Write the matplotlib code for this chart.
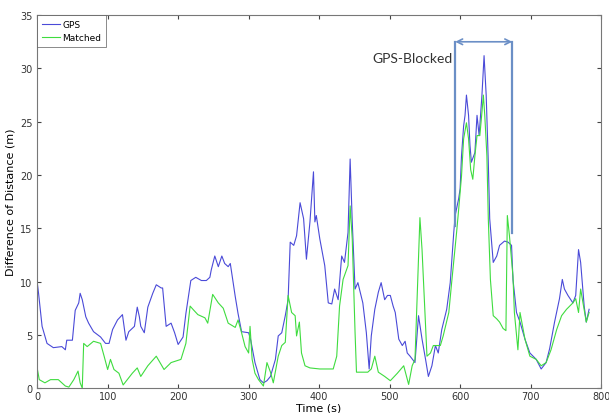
import matplotlib
matplotlib.use("Agg")
import matplotlib.pyplot as plt

# GPS error curve (time s, difference m)
gps_t = [0, 2, 7, 14, 23, 35, 40, 42, 50, 54, 59, 61, 64, 69, 73, 80, 90, 97, 102,
         107, 114, 121, 126, 130, 138, 142, 145, 147, 152, 157, 164, 169, 176, 178,
         183, 190, 195, 200, 207, 211, 218, 225, 233, 240, 245, 247, 252, 257, 262,
         266, 271, 274, 281, 285, 290, 300, 303, 309, 316, 321, 326, 331, 338, 342,
         347, 352, 356, 359, 364, 368, 373, 378, 382, 387, 392, 394, 396, 401, 408,
         413, 418, 422, 427, 432, 436, 441, 444, 447, 451, 455, 462, 467, 471, 474,
         479, 484, 488, 493, 497, 501, 505, 508, 513, 518, 522, 525, 529, 536, 541,
         546, 551, 555, 560, 565, 569, 574, 581, 586, 591, 593, 598, 600, 602, 605,
         607, 609, 612, 614, 616, 621, 624, 627, 631, 634, 637, 640, 642, 647, 652,
         656, 663, 668, 673, 675, 680, 685, 692, 699, 708, 715, 722, 727, 734, 741,
         745, 748, 753, 760, 764, 768, 771, 776, 779, 783]
gps_d = [10.0, 8.9, 5.8, 4.2, 3.8, 3.9, 3.6, 4.5, 4.5, 7.3, 8.0, 8.9, 8.3, 6.7, 6.1,
         5.3, 4.8, 4.2, 4.2, 5.5, 6.4, 6.9, 4.5, 5.3, 5.8, 7.6, 6.7, 5.8, 5.2, 7.6,
         8.9, 9.7, 9.4, 9.4, 5.8, 6.1, 5.2, 4.1, 4.8, 7.0, 10.1, 10.4, 10.1, 10.1,
         10.4, 11.1, 12.4, 11.4, 12.4, 11.7, 11.4, 11.7, 8.6, 7.0, 5.3, 5.2, 4.5,
         2.4, 0.8, 0.5, 0.7, 1.1, 2.7, 4.9, 5.2, 6.8, 8.3, 13.7, 13.4, 14.3, 17.4,
         15.9, 12.1, 15.6, 20.3, 15.6, 16.2, 14.0, 11.5, 8.0, 7.9, 9.3, 8.3, 12.4,
         11.8, 14.6, 21.5, 15.6, 9.3, 9.9, 8.0, 5.2, 1.8, 4.9, 7.4, 9.0, 9.9, 8.3,
         8.7, 8.7, 7.7, 7.1, 4.6, 4.0, 4.4, 3.3, 3.0, 2.4, 6.8, 4.6, 2.7, 1.1, 2.1,
         4.0, 3.3, 5.5, 7.4, 9.9, 14.6, 16.2, 17.8, 18.7, 21.8, 24.6, 25.6, 27.5,
         25.6, 22.8, 21.2, 22.1, 25.6, 23.7, 27.5, 31.2, 27.5, 21.2, 15.9, 11.8,
         12.4, 13.4, 13.8, 13.7, 13.4, 10.2, 7.1, 6.2, 4.6, 3.3, 2.7, 1.8, 2.4, 3.7,
         6.2, 8.4, 10.2, 9.3, 8.7, 8.0, 8.7, 13.0, 11.8, 7.7, 6.2, 7.4]

# map-matched error curve
match_t = [0, 3, 11, 19, 30, 40, 45, 52, 58, 61, 64, 66, 71, 80, 90, 95, 100, 104,
           109, 116, 122, 128, 135, 142, 147, 157, 169, 180, 190, 204, 211, 217,
           221, 228, 238, 242, 249, 257, 264, 271, 281, 285, 290, 295, 300, 302,
           305, 309, 314, 321, 326, 331, 335, 342, 347, 352, 356, 361, 366, 368,
           372, 375, 380, 387, 401, 420, 425, 429, 434, 441, 444, 447, 451, 453,
           462, 469, 474, 479, 484, 493, 501, 511, 520, 527, 532, 536, 543, 546,
           551, 553, 558, 562, 572, 576, 584, 588, 595, 598, 602, 605, 609, 612,
           615, 618, 621, 624, 628, 631, 633, 635, 638, 640, 643, 647, 652, 656,
           661, 665, 667, 670, 675, 677, 682, 685, 692, 699, 708, 715, 722, 729,
           737, 744, 751, 760, 764, 768, 771, 776, 779, 783]
match_d = [1.9, 0.8, 0.5, 0.8, 0.8, 0.2, 0.1, 0.8, 1.6, 0.5, 0.0, 4.2, 3.9, 4.4,
           4.2, 3.0, 1.75, 2.7, 1.75, 1.4, 0.3, 0.8, 1.4, 1.9, 1.1, 2.1, 3.0, 1.75,
           2.4, 2.7, 4.2, 7.7, 7.4, 6.9, 6.6, 6.1, 8.8, 8.0, 7.5, 6.1, 5.7, 6.4,
           5.2, 3.9, 3.3, 5.8, 2.7, 1.4, 0.8, 0.2, 2.4, 1.5, 0.5, 3.0, 4.0, 4.3,
           8.7, 7.1, 6.8, 4.9, 6.2, 3.3, 2.1, 1.9, 1.8, 1.8, 3.0, 7.7, 10.2, 11.5,
           17.1, 14.0, 5.2, 1.5, 1.5, 1.5, 1.8, 3.0, 1.5, 1.1, 0.7, 1.4, 2.1, 0.35,
           2.1, 2.7, 16.0, 13.0, 5.8, 3.0, 3.3, 4.0, 4.0, 4.9, 7.1, 9.9, 14.6, 16.8,
           19.9, 23.4, 24.9, 23.4, 20.5, 19.6, 21.8, 23.7, 23.7, 25.9, 27.5, 25.6,
           21.8, 15.9, 10.2, 6.8, 6.5, 6.2, 5.6, 5.4, 16.2, 14.3, 10.5, 7.1, 3.6,
           7.1, 4.6, 3.0, 2.7, 2.1, 2.4, 3.6, 5.5, 6.8, 7.4, 8.0, 8.4, 7.1, 9.3,
           7.4, 6.2, 7.1]

blocked_start, blocked_end = 593, 674
blocked_top = 32.5
blocked_left_bottom, blocked_right_bottom = 15.2, 14.6

fig = plt.figure(figsize=(6.09, 4.14), dpi=100)
ax = fig.add_axes([0.061, 0.06, 0.926, 0.901])

ax.plot(gps_t, gps_d, color="#4a4ad8", lw=0.8, label="GPS")
ax.plot(match_t, match_d, color="#3fdc3f", lw=0.8, label="Matched")

# GPS-blocked marker
box_col = "#6b8fc6"
ax.plot([blocked_start, blocked_start], [blocked_left_bottom, blocked_top], color=box_col, lw=1.6)
ax.plot([blocked_end, blocked_end], [blocked_right_bottom, blocked_top], color=box_col, lw=1.6)
ax.annotate("", xy=(blocked_start, blocked_top), xytext=(blocked_end, blocked_top),
            arrowprops=dict(arrowstyle="<->", color=box_col, lw=1.2, shrinkA=0, shrinkB=0))
ax.text(blocked_start - 3, 31.0, "GPS-Blocked", ha="right", va="center",
        fontsize=10, family="Lato", color="#333333")

ax.set_xlim(0, 800)
ax.set_ylim(0, 35)
ax.set_xticks(range(0, 801, 100))
ax.set_yticks(range(0, 36, 5))
ax.tick_params(direction="in", top=True, right=True, labelsize=7, length=3,
               colors="#444444", labelcolor="#333333")
ax.tick_params(axis="x", pad=2)
for s in ax.spines.values():
    s.set_color("#777777")
ax.set_xlabel("Time (s)", fontsize=8, va="center")
ax.set_ylabel("Difference of Distance (m)", fontsize=8, va="center")
ax.xaxis.set_label_coords(0.5, -0.052)
ax.yaxis.set_label_coords(-0.047, 0.5)

leg = ax.legend(loc="upper left", fontsize=6.5, frameon=True, fancybox=False,
                borderaxespad=0, handlelength=2, borderpad=0.5, labelspacing=0.5,
                handletextpad=0.3)
leg.get_frame().set_edgecolor("#555555")
leg.get_frame().set_linewidth(0.6)

fig.savefig("out.png", dpi=100)
